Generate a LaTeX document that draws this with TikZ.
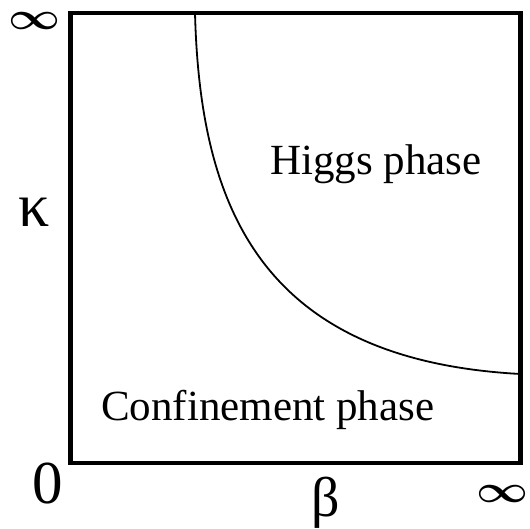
\documentclass[tikz,border=0pt]{standalone}
\usepackage{graphicx}
\usepackage{fontspec}
\setmainfont{Liberation Serif}
\newcommand{\infsym}{\resizebox*{52pt}{17pt}{\boldmath$\infty$}}
\begin{document}
\begin{tikzpicture}[x=1pt,y=-1pt,
  frame/.style={line width=4.5pt, line join=miter},
  boundary/.style={line width=1.8pt},
  phaselabel/.style={anchor=base west, inner sep=0pt, font=\fontsize{43}{43}\selectfont},
  axislabel/.style={anchor=center, inner sep=0pt}]
\useasboundingbox (0,0) rectangle (530,529);
\draw[frame] (70.5,13) rectangle (520.5,463);
\coordinate (ctop) at (195,13);
\coordinate (cright) at (520.5,374);
\draw[boundary] (ctop) .. controls (200,206) and (260,360) .. (cright);
\node[phaselabel] (higgs) at (270,175) {Higgs phase};
\node[phaselabel] (conf) at (101,420) {Confinement phase};
\node[axislabel] (inftop) at (35,21) {\infsym};
\node[axislabel, font=\fontsize{62}{62}\selectfont] (kappa) at (34,212.5) {κ};
\node[axislabel, font=\fontsize{61}{61}\selectfont] (zero) at (47.5,483.5) {0};
\node[axislabel, font=\fontsize{56}{56}\selectfont] (beta) at (326,502.5) {β};
\node[axislabel] (infright) at (503,494) {\infsym};
\end{tikzpicture}
\end{document}
